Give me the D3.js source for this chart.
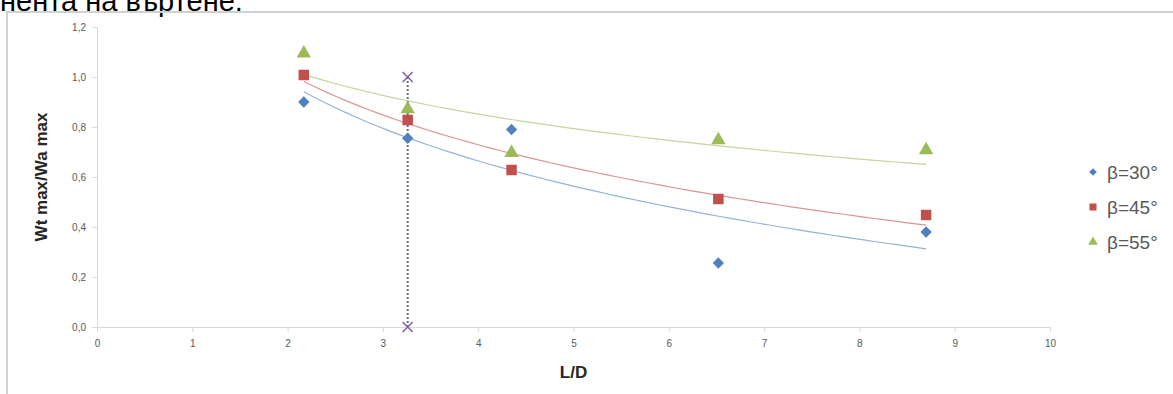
<!DOCTYPE html>
<html>
<head>
<meta charset="utf-8">
<script src="https://cdn.jsdelivr.net/npm/d3@7"></script>
<style>
  html, body { margin: 0; padding: 0; background: #fff; overflow: hidden; }
  svg { display: block; font-family: "Liberation Sans", Arial, sans-serif; }
  .tick-label { fill: #595959; font-size: 10px; }
  .axis-title { fill: #262626; font-size: 17px; font-weight: bold; }
  .legend-label { fill: #595959; font-size: 19px; }
</style>
</head>
<body>
<div id="chart"></div>
<script>
// values
const ldValues = [2.17, 3.26, 4.35, 6.52, 8.70];
const beta30 = [0.90, 0.755, 0.79, 0.256, 0.38];
const beta45 = [1.008, 0.828, 0.628, 0.512, 0.448];
const beta55 = [1.095, 0.872, 0.697, 0.748, 0.708];
const markerX = [3.26, 3.26];
const markerY = [0.0, 1.0];

const seriesNames = ['β=30°', 'β=45°', 'β=55°'];
const xTicks = [0, 1, 2, 3, 4, 5, 6, 7, 8, 9, 10];
const yTicks = [0, 0.2, 0.4, 0.6, 0.8, 1.0, 1.2];
const yTickLabels = ['0,0', '0,2', '0,4', '0,6', '0,8', '1,0', '1,2'];
const captionText = 'нента на въртене.';

const WIDTH = 1173;
const HEIGHT = 394;

// diamond drawn as a square turned by 45 degrees
const series = [
    { name: seriesNames[0], values: beta30, color: '#4F81BD', shape: d3.symbolSquare, size: 64, rotate: 45 },
    { name: seriesNames[1], values: beta45, color: '#C0504D', shape: d3.symbolSquare, size: 110, rotate: 0 },
    { name: seriesNames[2], values: beta55, color: '#9BBB59', shape: d3.symbolTriangle, size: 90, rotate: 0 }
];

/**
 * logarithmic least squares fit y = a + b*ln(x), like Excel's trendline
 */
const logFit = (xs, ys) => {
    const lx = xs.map(Math.log);
    const mx = d3.mean(lx);
    const my = d3.mean(ys);
    let sxy = 0, sxx = 0;
    lx.forEach((v, i) => {
        sxy += (v - mx) * (ys[i] - my);
        sxx += (v - mx) * (v - mx);
    });
    const b = sxy / sxx;
    const a = my - b * mx;
    return (x) => a + b * Math.log(x);
};

const drawCross = (svg, cx, cy, r) => {
    svg.append('path')
        .attr('d', `M${cx - r},${cy - r}L${cx + r},${cy + r}M${cx - r},${cy + r}L${cx + r},${cy - r}`)
        .attr('stroke', '#8064A2')
        .attr('stroke-width', 1.6)
        .attr('fill', 'none');
};

const renderChart = () => {
    const svg = d3.select('#chart').append('svg')
        .attr('width', WIDTH)
        .attr('height', HEIGHT);

    // caption text cut off at the top of the page
    svg.append('text')
        .attr('x', 0)
        .attr('y', 11)
        .attr('font-size', 29)
        .attr('fill', '#000')
        .text(captionText);

    // chart frame
    svg.append('rect')
        .attr('x', 7)
        .attr('y', 12)
        .attr('width', 1200)
        .attr('height', 420)
        .attr('fill', 'none')
        .attr('stroke', '#d0d0d0')
        .attr('stroke-width', 2);

    const x = d3.scaleLinear().domain([0, 10]).range([97, 1050]);
    const y = d3.scaleLinear().domain([0, 1.2]).range([327, 27]);

    // y axis
    const yAxis = svg.append('g')
        .attr('transform', `translate(${x(0)},0)`)
        .call(d3.axisLeft(y).tickValues(yTicks).tickSize(5).tickPadding(6)
            .tickFormat((d, i) => yTickLabels[i]));
    yAxis.select('.domain').attr('stroke', '#d9d9d9');
    yAxis.selectAll('.tick line').attr('stroke', '#d9d9d9');
    yAxis.selectAll('.tick text').attr('class', 'tick-label').attr('font-size', null).attr('font-family', null);

    // x axis
    const xAxis = svg.append('g')
        .attr('transform', `translate(0,${y(0)})`)
        .call(d3.axisBottom(x).tickValues(xTicks).tickSize(5).tickPadding(8)
            .tickFormat(d3.format('d')));
    xAxis.select('.domain').attr('stroke', '#d9d9d9');
    xAxis.selectAll('.tick line').attr('stroke', '#d9d9d9');
    xAxis.selectAll('.tick text').attr('class', 'tick-label').attr('font-size', null).attr('font-family', null);

    // axis titles
    svg.append('text')
        .attr('class', 'axis-title')
        .attr('transform', `translate(47,${y(0.6)}) rotate(-90)`)
        .attr('text-anchor', 'middle')
        .text('Wt max/Wa max');

    svg.append('text')
        .attr('class', 'axis-title')
        .attr('x', x(5))
        .attr('y', 378)
        .attr('text-anchor', 'middle')
        .text('L/D');

    // trend lines
    const [xMin, xMax] = d3.extent(ldValues);
    const line = d3.line().x(d => x(d[0])).y(d => y(d[1]));
    series.forEach(s => {
        const f = logFit(ldValues, s.values);
        const pts = d3.range(0, 61).map(i => {
            const xv = xMin + (xMax - xMin) * i / 60;
            return [xv, f(xv)];
        });
        svg.append('path')
            .attr('d', line(pts))
            .attr('fill', 'none')
            .attr('stroke', s.color)
            .attr('stroke-opacity', 0.6)
            .attr('stroke-width', 1.2);
    });

    // vertical marker line with crosses at its ends
    svg.append('line')
        .attr('x1', x(markerX[0]))
        .attr('y1', y(markerY[0]))
        .attr('x2', x(markerX[1]))
        .attr('y2', y(markerY[1]))
        .attr('stroke', '#6a6a86')
        .attr('stroke-width', 2)
        .attr('stroke-dasharray', '2,2');

    markerX.forEach((mx, i) => drawCross(svg, x(mx), y(markerY[i]), 5));

    // data points
    series.forEach(s => {
        svg.append('g').selectAll('path')
            .data(s.values)
            .join('path')
            .attr('transform', (d, i) => `translate(${x(ldValues[i])},${y(d)}) rotate(${s.rotate})`)
            .attr('d', d3.symbol(s.shape, s.size)())
            .attr('fill', s.color);
    });

    // legend
    const legend = svg.append('g').attr('transform', 'translate(1093,172)');
    series.forEach((s, i) => {
        const row = legend.append('g').attr('transform', `translate(0,${i * 35})`);
        row.append('path')
            .attr('transform', `rotate(${s.rotate})`)
            .attr('d', d3.symbol(s.shape, s.size * 0.45)())
            .attr('fill', s.color);
        row.append('text')
            .attr('class', 'legend-label')
            .attr('x', 14)
            .attr('y', 7)
            .text(s.name);
    });
};

renderChart();
</script>
</body>
</html>
